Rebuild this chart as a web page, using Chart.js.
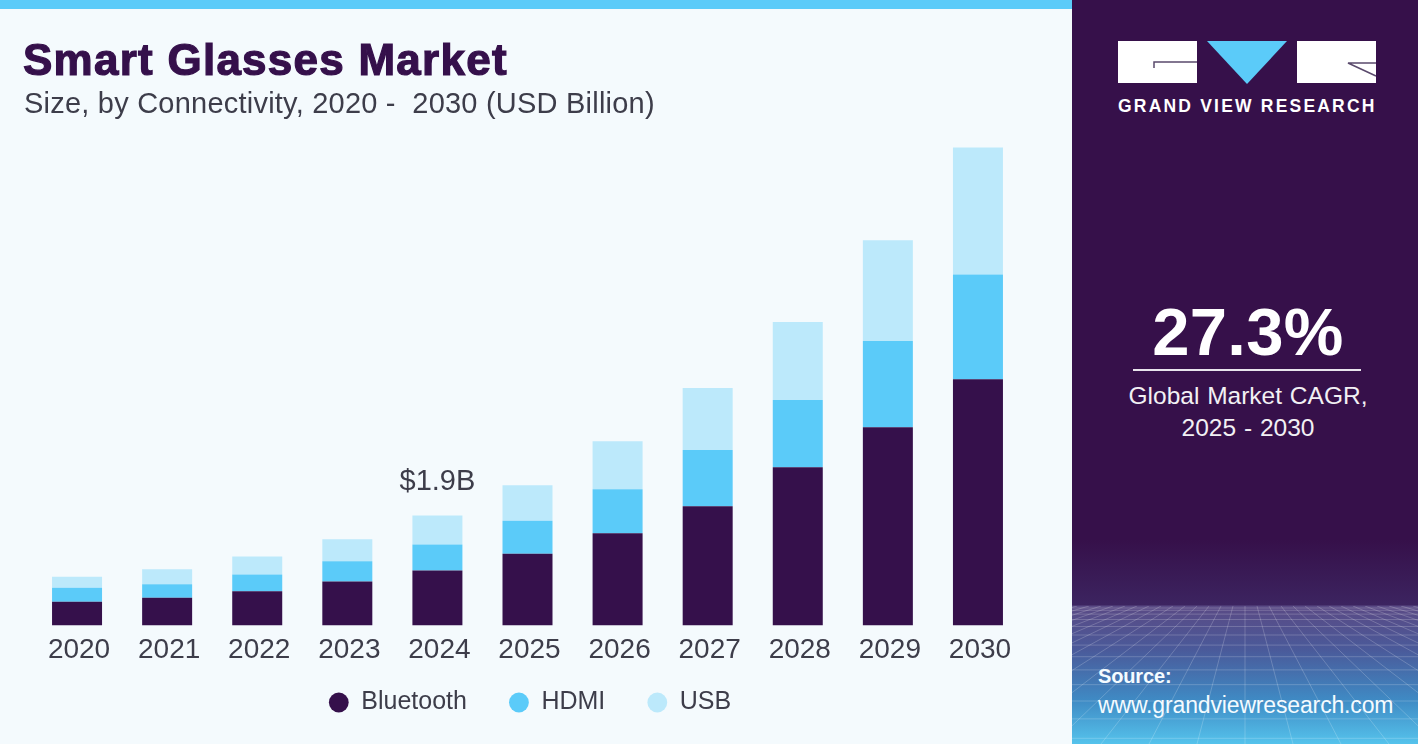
<!DOCTYPE html>
<html>
<head>
<meta charset="utf-8">
<title>Smart Glasses Market</title>
<script src="https://cdn.jsdelivr.net/npm/chart.js@4"></script>
<style>
html, body { margin:0; padding:0; background:#f4fafd; }
body { width:1418px; height:744px; position:relative; overflow:hidden; font-family:"Liberation Sans", Arial, sans-serif; }
#topbar { position:absolute; left:0; top:0; width:1072px; height:9px; background:#5bcbf9; }
#chartbox { position:absolute; left:0; top:0; width:1072px; height:744px; }
h1 { position:absolute; left:23px; top:35px; margin:0; font-size:44px; line-height:50px; color:#35104b; letter-spacing:1.25px; -webkit-text-stroke:1.2px #35104b; white-space:nowrap; }
#sub { position:absolute; left:24px; top:88px; font-size:29px; line-height:30px; color:#3d3d4a; letter-spacing:.22px; white-space:pre; }
#panel { position:absolute; left:1072px; top:0; width:346px; height:744px;
  background:linear-gradient(to bottom,#36104a 0,#36104a 540px,#3c2460 605px,#5a4a85 606px,#4a5a9a 650px,#3f8ac4 700px,#55c3ec 744px); color:#fff; text-align:center; }
#panel svg { position:absolute; left:0; }
#cagr { position:absolute; left:0; width:352px; top:294px; font-size:67px; line-height:76px; font-weight:bold; letter-spacing:.3px; }
#rule { position:absolute; left:61px; top:369px; width:228px; height:2px; background:#e8e4ec; }
#cagrtxt { position:absolute; left:0; width:352px; top:380px; font-size:24.5px; line-height:32px; color:#f2f0f4; word-spacing:1px; }
#brand { position:absolute; left:46px; top:96px; width:260px; font-size:17.5px; line-height:20px; font-weight:bold; letter-spacing:2.2px; white-space:nowrap; text-align:left; }
#source { position:absolute; left:26px; top:661px; font-size:23px; line-height:29px; text-align:left; color:#f4fbff; white-space:nowrap; letter-spacing:-.15px; }
#source b { font-size:20px; }
</style>
</head>
<body>
<div id="chartbox"><canvas id="grafico" width="1072" height="744"></canvas></div>
<div id="topbar"></div>
<h1>Smart Glasses Market</h1>
<div id="sub">Size, by Connectivity, 2020 -  2030 (USD Billion)</div>
<div id="panel">
  <svg width="346" height="120" style="top:0">
    <path d="M46 41H125V83H46Z" fill="#fff"/>
    <path d="M135 41H215L175 84Z" fill="#5bcbf9"/>
    <path d="M225 41H304V83H225Z" fill="#fff"/>
    <path d="M82 68V62H125" fill="none" stroke="#5a4a6c" stroke-width="1.5"/>
    <path d="M304 63H276L304 76" fill="none" stroke="#5a4a6c" stroke-width="1.5"/>
  </svg>
  <div id="brand">GRAND VIEW RESEARCH</div>
  <div id="cagr">27.3%</div>
  <div id="rule"></div>
  <div id="cagrtxt">Global Market CAGR,<br>2025 - 2030</div>
  <svg id="mesh" width="346" height="138" style="top:606px"></svg>
  <div id="source"><b>Source:</b><br>www.grandviewresearch.com</div>
</div>
<script>
// valores (USD bilhoes)
var anos = ['2020','2021','2022','2023','2024','2025','2026','2027','2028','2029','2030'];
var bluetooth = [0.41,0.48,0.59,0.76,0.95,1.24,1.59,2.06,2.73,3.42,4.25];
var hdmi = [0.24,0.23,0.29,0.35,0.45,0.57,0.76,0.97,1.16,1.49,1.81];
var usb = [0.19,0.26,0.31,0.38,0.50,0.61,0.83,1.07,1.35,1.74,2.19];
var rotuloAno = '2024';
var rotuloTexto = '$1.9B';

// malha decorativa do painel
var mesh = '';
for (var i = 0; i < 13; i++) {
  var yy = 2 + i * i * 0.78 + i * 1.5;
  mesh += '<line x1="0" x2="346" y1="' + yy + '" y2="' + yy + '"/>';
}
for (var j = -18; j <= 18; j++) {
  mesh += '<line x1="' + (173 + j * 12) + '" y1="0" x2="' + (173 + j * 48) + '" y2="138"/>';
}
document.getElementById('mesh').innerHTML = '<g stroke="#fff" stroke-opacity=".2" stroke-width="1">' + mesh + '</g>';

// escreve o total acima da barra marcada
var rotuloTotal = {
  id: 'rotuloTotal',
  // o eixo e curto no layout, mas os anos sao recortados pela caixa dele
  afterLayout: function (chart) {
    chart.scales.x.bottom = chart.scales.x.top + 44;
    chart.legend.left += 2.5;
    chart.legend.right += 2.5;
    chart.legend.top -= 1;
  },
  afterDatasetsDraw: function (chart) {
    var i = anos.indexOf(rotuloAno);
    var total = bluetooth[i] + hdmi[i] + usb[i];
    var ctx = chart.ctx;
    ctx.save();
    ctx.font = '29px "Liberation Sans"';
    ctx.fillStyle = '#3d3d4a';
    ctx.textAlign = 'center';
    ctx.textBaseline = 'middle';
    ctx.fillText(rotuloTexto, chart.scales.x.getPixelForValue(i), chart.scales.y.getPixelForValue(total) - 33);
    ctx.restore();
  }
};

var ctx = document.getElementById('grafico').getContext('2d');
var grafico = new Chart(ctx, {
  type: 'bar',
  data: {
    labels: anos,
    datasets: [
      { label: 'Bluetooth', data: bluetooth, backgroundColor: '#35104b' },
      { label: 'HDMI', data: hdmi, backgroundColor: '#5bcbf9' },
      { label: 'USB', data: usb, backgroundColor: '#bce9fb' }
    ]
  },
  options: {
    responsive: false,
    animation: false,
    barPercentage: 0.555,
    categoryPercentage: 1,
    layout: { padding: { left: 32, right: 49, top: 133, bottom: 18 } },
    scales: {
      x: {
        stacked: true,
        grid: { display: false },
        border: { display: false },
        // o eixo fica curto para os anos ocuparem a folga acima da legenda
        afterFit: function (axis) { axis.height = 23.5; },
        ticks: { color: '#3d3d4a', font: { size: 28, family: '"Liberation Sans"' }, padding: 0, labelOffset: 2, maxRotation: 0 }
      },
      y: { stacked: true, display: false, min: 0, max: 8.5 }
    },
    plugins: {
      legend: {
        position: 'bottom',
        labels: {
          usePointStyle: true,
          pointStyle: 'circle',
          boxWidth: 20,
          boxHeight: 14,
          padding: 42,
          color: '#3d3d4a',
          font: { size: 25, family: '"Liberation Sans"' }
        }
      },
      tooltip: { enabled: false }
    }
  },
  plugins: [rotuloTotal]
});
</script>
</body>
</html>
